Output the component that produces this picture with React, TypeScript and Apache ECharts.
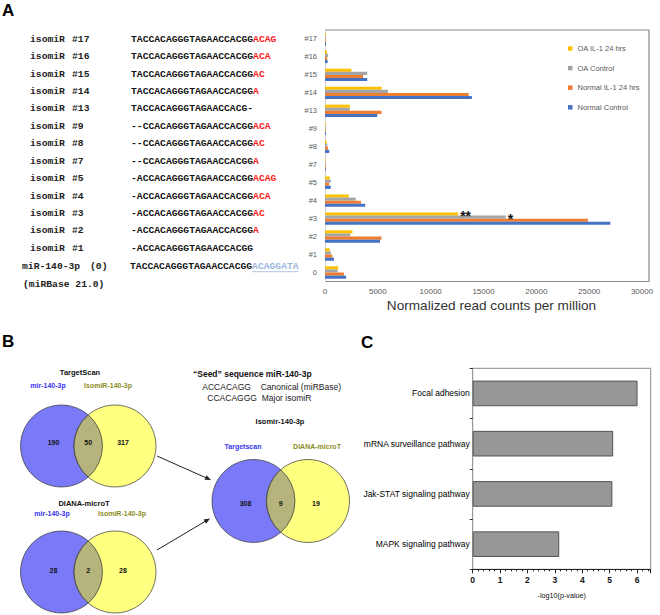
import React, { useEffect, useRef } from 'react';
import * as echarts from 'echarts';

// ---------- Panel A data ----------
const isomirCategories = ['#17', '#16', '#15', '#14', '#13', '#9', '#8', '#7', '#5', '#4', '#3', '#2', '#1', '0'];
const seriesNames = ['OA IL-1 24 hrs', 'OA Control', 'Normal IL-1 24 hrs', 'Normal Control'];
const seriesColors = ['#FFC000', '#A5A5A5', '#ED7D31', '#4472C4'];
const oaIL1 = [70, 200, 2500, 5370, 2350, 70, 160, 60, 450, 2250, 12600, 2600, 450, 1250];
const oaControl = [70, 300, 4000, 5950, 2350, 70, 220, 60, 550, 2900, 17100, 2400, 550, 1200];
const normalIL1 = [70, 200, 3600, 13600, 5350, 70, 280, 60, 400, 3400, 24900, 5350, 700, 1800];
const normalControl = [90, 250, 4000, 13900, 4950, 90, 400, 70, 550, 3800, 27000, 5200, 850, 2000];
const significanceMarks = [
  { series: 'OA IL-1 24 hrs', category: '#3', text: '**' },
  { series: 'OA Control', category: '#3', text: '*' },
];
const xAxisNameA = 'Normalized read counts per million';

// isomiR sequence table
const rowIds = ['#17', '#16', '#15', '#14', '#13', '#9', '#8', '#7', '#5', '#4', '#3', '#2', '#1'];
const rowSeqs = [
  'TACCACAGGGTAGAACCACGG', 'TACCACAGGGTAGAACCACGG', 'TACCACAGGGTAGAACCACGG', 'TACCACAGGGTAGAACCACGG',
  'TACCACAGGGTAGAACCACG-', '--CCACAGGGTAGAACCACGG', '--CCACAGGGTAGAACCACGG', '--CCACAGGGTAGAACCACGG',
  '-ACCACAGGGTAGAACCACGG', '-ACCACAGGGTAGAACCACGG', '-ACCACAGGGTAGAACCACGG', '-ACCACAGGGTAGAACCACGG',
  '-ACCACAGGGTAGAACCACGG',
];
const rowTails = ['ACAG', 'ACA', 'AC', 'A', '', 'ACA', 'AC', 'A', 'ACAG', 'ACA', 'AC', 'A', ''];
const canonicalSeq = 'TACCACAGGGTAGAACCACGG';
const canonicalTail = 'ACAGGATA';

// ---------- Panel B data ----------
const vennTargetScan = { title: 'TargetScan', left: 'mir-140-3p', right: 'IsomiR-140-3p', counts: [190, 50, 317] };
const vennDiana = { title: 'DIANA-microT', left: 'mir-140-3p', right: 'IsomiR-140-3p', counts: [28, 2, 28] };
const vennIsomir = { title: 'Isomir-140-3p', left: 'Targetscan', right: 'DIANA-microT', counts: [308, 9, 19] };
const seedTitle = '\u201CSeed\u201D sequence miR-140-3p';
const seedRows = [
  { seq: 'ACCACAGG', label: 'Canonical (miRBase)' },
  { seq: 'CCACAGGG', label: 'Major isomiR' },
];

// ---------- Panel C data ----------
const pathways = ['Focal adhesion', 'mRNA surveillance pathway', 'Jak-STAT signaling pathway', 'MAPK signaling pathway'];
const pathwayScores = [6.02, 5.13, 5.1, 3.16];
const xAxisNameC = '-log10(p-value)';

const SANS = '"Liberation Sans", Arial, sans-serif';
const MONO = '"Liberation Mono", "Courier New", monospace';
const NARROW = '"Liberation Sans Narrow", "Arial Narrow", "Liberation Sans", sans-serif';

const BLUE = '#7A7AF8';
const YELLOW = '#FFFF80';
const LENS = '#B4B47C';
const BLUE_TXT = '#3535F0';
const OLIVE_TXT = '#8C8C1E';

function txt(x: number, y: number, text: string, o: any = {}) {
  return {
    type: 'text',
    x,
    y,
    silent: true,
    style: {
      text,
      fontSize: o.fontSize ?? 8,
      fontFamily: o.fontFamily ?? SANS,
      fontWeight: o.fontWeight ?? 'normal',
      fill: o.fill ?? '#111',
      textAlign: o.align ?? 'left',
      textVerticalAlign: 'middle',
      ...(o.rich ? { rich: o.rich } : {}),
    },
  };
}

function arrow(x1: number, y1: number, x2: number, y2: number) {
  const dx = x2 - x1;
  const dy = y2 - y1;
  const len = Math.sqrt(dx * dx + dy * dy);
  const ux = dx / len;
  const uy = dy / len;
  const L = 6;
  const W = 2.5;
  return [
    { type: 'line', silent: true, shape: { x1, y1, x2: x2 - ux * 3, y2: y2 - uy * 3 }, style: { stroke: '#222', lineWidth: 1 } },
    {
      type: 'polygon',
      silent: true,
      shape: {
        points: [
          [x2, y2],
          [x2 - ux * L - uy * W, y2 - uy * L + ux * W],
          [x2 - ux * L + uy * W, y2 - uy * L - ux * W],
        ],
      },
      style: { fill: '#222' },
    },
  ];
}

echarts.graphic.registerShape(
  'lens',
  echarts.graphic.extendShape({
    shape: { cx1: 0, cx2: 0, cy: 0, r: 1 },
    buildPath(ctx: any, shape: any) {
      const d = shape.cx2 - shape.cx1;
      const a = Math.acos(d / 2 / shape.r);
      ctx.moveTo(shape.cx1 + shape.r * Math.cos(-a), shape.cy + shape.r * Math.sin(-a));
      ctx.arc(shape.cx1, shape.cy, shape.r, -a, a, false);
      ctx.arc(shape.cx2, shape.cy, shape.r, Math.PI - a, Math.PI + a, false);
      ctx.closePath();
    },
  }) as any
);

function venn(v: any, g: any) {
  const { cx1, cx2, cy, r } = g;
  const els: any[] = [
    { type: 'circle', silent: true, shape: { cx: cx1, cy, r }, style: { fill: BLUE, stroke: '#333', lineWidth: 0.7 } },
    { type: 'circle', silent: true, shape: { cx: cx2, cy, r }, style: { fill: YELLOW, stroke: '#333', lineWidth: 0.7 } },
    { type: 'lens', silent: true, shape: { cx1, cx2, cy, r }, style: { fill: LENS, stroke: '#333', lineWidth: 0.7 } },
  ];
  const ny = cy + g.numDy;
  els.push(txt(cx1 - 8, ny, String(v.counts[0]), { align: 'center', fontSize: 7, fontWeight: 'bold' }));
  els.push(txt((cx1 + cx2) / 2, ny, String(v.counts[1]), { align: 'center', fontSize: 7, fontWeight: 'bold' }));
  els.push(txt(cx2 + 8, ny, String(v.counts[2]), { align: 'center', fontSize: 7, fontWeight: 'bold' }));
  els.push(txt(g.titleX, g.titleY, v.title, { align: 'center', fontSize: 7.5, fontWeight: 'bold' }));
  els.push(txt(g.leftX, g.labelY, v.left, { align: 'center', fontSize: 7, fontWeight: 'bold', fill: BLUE_TXT }));
  els.push(txt(g.rightX, g.labelY, v.right, { align: 'center', fontSize: 7, fontWeight: 'bold', fill: OLIVE_TXT }));
  return els;
}

export default function App() {
  const ref = useRef<HTMLDivElement>(null);

  useEffect(() => {
    if (!ref.current) return;
    const chart = echarts.init(ref.current, undefined, { renderer: 'svg' });

    const seriesData = [oaIL1, oaControl, normalIL1, normalControl];
    const barSeries = seriesNames.map((name, si) => ({
      name,
      type: 'bar',
      xAxisIndex: 0,
      yAxisIndex: 0,
      barGap: '0%',
      barCategoryGap: '31%',
      itemStyle: { color: seriesColors[si] },
      data: seriesData[si].map((v, ci) => {
        const m = significanceMarks.find((s) => s.series === name && s.category === isomirCategories[ci]);
        if (!m) return v;
        return {
          value: v,
          label: {
            show: true,
            position: 'right',
            formatter: m.text,
            fontSize: 14,
            fontWeight: 'bold',
            fontFamily: SANS,
            color: '#111',
            distance: 2,
            offset: [0, 2],
          },
        };
      }),
    }));

    // Sequence table graphics
    const seqFontA = { fontFamily: MONO, fontWeight: 'bold', fontSize: 9.7 };
    const tableEls: any[] = [];
    rowIds.forEach((id, i) => {
      const y = 39.3 + i * 17.42;
      tableEls.push(txt(30, y, 'isomiR', { ...seqFontA, fill: '#222' }));
      tableEls.push(txt(72, y, id, { ...seqFontA, fill: '#222' }));
      const t = rowTails[i] ? `{k|${rowSeqs[i]}}{r|${rowTails[i]}}` : `{k|${rowSeqs[i]}}`;
      tableEls.push(
        txt(131, y, t, {
          ...seqFontA,
          rich: {
            k: { ...seqFontA, fill: '#111' },
            r: { ...seqFontA, fill: '#FF1A1A' },
          },
        })
      );
    });
    const canonY = 266.7;
    tableEls.push(txt(22, canonY, 'miR-140-3p', { ...seqFontA, fill: '#222' }));
    tableEls.push(txt(90, canonY, '(0)', { ...seqFontA, fill: '#222' }));
    tableEls.push(
      txt(130, canonY, `{k|${canonicalSeq}}{b|${canonicalTail}}`, {
        ...seqFontA,
        rich: { k: { ...seqFontA, fill: '#111' }, b: { ...seqFontA, fill: '#9DB5E0' } },
      })
    );
    const cw = 9.7 * 0.6;
    tableEls.push({
      type: 'line',
      silent: true,
      shape: { x1: 130 + canonicalSeq.length * cw, y1: canonY + 5, x2: 130 + (canonicalSeq.length + canonicalTail.length) * cw, y2: canonY + 5 },
      style: { stroke: '#9DB5E0', lineWidth: 0.8 },
    });
    tableEls.push(txt(23, 284.3, '(miRBase 21.0)', { ...seqFontA, fill: '#222' }));

    const graphic: any[] = [
      txt(2, 10, 'A', { fontSize: 17, fontWeight: 'bold', fill: '#000' }),
      txt(2, 341, 'B', { fontSize: 17, fontWeight: 'bold', fill: '#000' }),
      txt(361, 342, 'C', { fontSize: 17, fontWeight: 'bold', fill: '#000' }),
      {
        type: 'polyline',
        silent: true,
        shape: { points: [[325, 30], [649, 30], [649, 281.5], [325, 281.5]] },
        style: { stroke: '#8A8A8A', lineWidth: 1.2, fill: 'none' },
      },
      ...tableEls,
      ...venn(vennTargetScan, { cx1: 61.5, cx2: 115, cy: 446, r: 41, numDy: -4, titleX: 80, titleY: 372, leftX: 48, rightX: 108, labelY: 385 }),
      ...venn(vennDiana, { cx1: 61.5, cx2: 115, cy: 572, r: 41, numDy: -2, titleX: 84, titleY: 503, leftX: 52, rightX: 122, labelY: 513.5 }),
      ...venn(vennIsomir, { cx1: 253.5, cx2: 308, cy: 501, r: 41.5, numDy: 2.5, titleX: 280, titleY: 421.5, leftX: 243, rightX: 317, labelY: 446.7 }),
      txt(193, 374, seedTitle, { fontSize: 8.5, fontWeight: 'bold', fill: '#111' }),
      txt(202.3, 386.7, seedRows[0].seq, { fontSize: 8.5, fill: '#222' }),
      txt(260.7, 386.7, seedRows[0].label, { fontSize: 8.5, fill: '#222' }),
      txt(207.3, 397.7, seedRows[1].seq, { fontSize: 8.5, fill: '#222' }),
      txt(261.7, 397.7, seedRows[1].label, { fontSize: 8.5, fill: '#222' }),
      ...arrow(157, 456, 211, 480),
      ...arrow(157, 550, 210, 518.5),
    ];

    const option: any = {
      animation: false,
      backgroundColor: '#fff',
      textStyle: { fontFamily: SANS },
      legend: {
        data: seriesNames,
        orient: 'vertical',
        left: 563,
        top: 39.5,
        icon: 'rect',
        itemWidth: 4.5,
        itemHeight: 4.5,
        itemGap: 11.6,
        textStyle: { fontSize: 7.5, color: '#595959', fontFamily: SANS },
      },
      grid: [
        { left: 325, top: 30, width: 317, height: 251.5 },
        { left: 472.7, top: 368.3, width: 178, height: 201, show: true, borderColor: '#8A8A8A', borderWidth: 1 },
      ],
      xAxis: [
        {
          gridIndex: 0,
          type: 'value',
          min: 0,
          max: 30000,
          interval: 5000,
          axisLine: { show: false },
          axisTick: { show: false },
          splitLine: { show: false },
          axisLabel: { fontSize: 8, color: '#595959', margin: 6, fontFamily: SANS, formatter: (v: number) => String(v) },
          name: xAxisNameA,
          nameLocation: 'middle',
          nameGap: 17,
          nameTextStyle: { fontSize: 13.6, color: '#333', fontFamily: SANS, padding: [0, 0, 0, 16] },
        },
        {
          gridIndex: 1,
          type: 'value',
          min: 0,
          max: 6.5,
          interval: 1,
          axisLine: { show: true, lineStyle: { color: '#222' } },
          axisTick: { show: true, length: 4, lineStyle: { color: '#222' } },
          minorTick: { show: true, splitNumber: 5, length: 2, lineStyle: { color: '#222' } },
          splitLine: { show: false },
          axisLabel: { fontSize: 8.5, color: '#111', margin: 6, fontFamily: NARROW, fontWeight: 'bold', showMaxLabel: false },
          name: xAxisNameC,
          nameLocation: 'middle',
          nameGap: 23,
          nameTextStyle: { fontSize: 7.2, color: '#111', fontFamily: NARROW },
        },
      ],
      yAxis: [
        {
          gridIndex: 0,
          type: 'category',
          data: isomirCategories,
          inverse: true,
          axisLine: { show: true, lineStyle: { color: '#D0D0D0' } },
          axisTick: { show: false },
          axisLabel: { fontSize: 7.5, color: '#595959', margin: 8, fontFamily: SANS },
        },
        {
          gridIndex: 1,
          type: 'category',
          data: pathways,
          inverse: true,
          axisLine: { show: true, lineStyle: { color: '#9A9A9A' } },
          axisTick: { show: true, length: 3, lineStyle: { color: '#333' } },
          axisLabel: { fontSize: 8.5, color: '#000', margin: 3, fontFamily: NARROW },
        },
      ],
      series: [
        ...barSeries,
        {
          name: 'Pathways',
          type: 'bar',
          xAxisIndex: 1,
          yAxisIndex: 1,
          barCategoryGap: '49%',
          itemStyle: { color: '#979797', borderColor: '#555', borderWidth: 1 },
          data: pathwayScores,
        },
      ],
      graphic,
    };

    chart.setOption(option);
    return () => chart.dispose();
  }, []);

  return <div ref={ref} style={{ width: 660, height: 615, position: 'absolute', left: 0, top: 0 }} />;
}
